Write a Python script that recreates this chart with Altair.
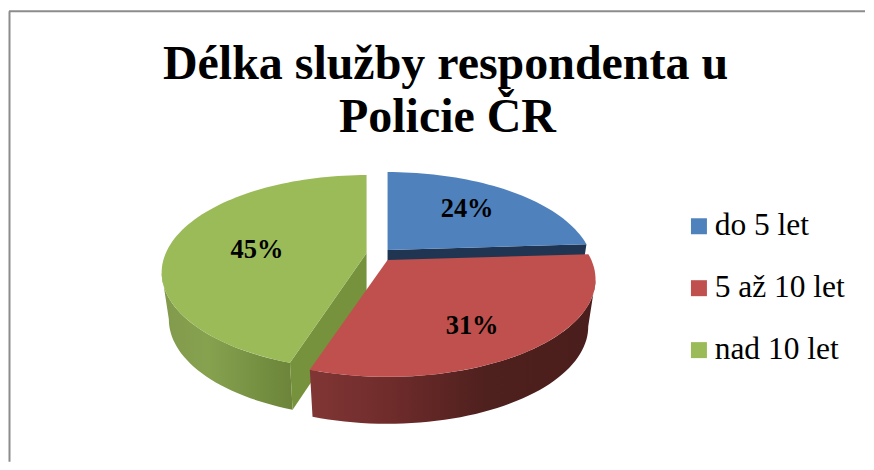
import math
import altair as alt
import pandas as pd

categories = ["do 5 let", "5 až 10 let", "nad 10 let"]
shares = [24, 31, 45]
labels = ["24%", "31%", "45%"]
colors = ["#4f81bd", "#c0504d", "#9bbb59"]
title_lines = ["Délka služby respondenta u", "Policie ČR"]

# exploded slice centres and half-axes (reference pixels)
centres = [(388, 250), (388, 260), (367, 253)]
radii = [202, 204, 201]
RY, K, DEPTH, NARROW = 93.6, 0.2, 47, 0.965
label_frac = [(0.66, 0.69), (0.57, 0.75), (0.57, 0.2)]


def rim(i, a):
    cx, cy = centres[i]
    t = math.radians(a)
    u, v = math.sin(t), -math.cos(t)
    d = 1 - K * v
    return cx + radii[i] * u / d, cy + RY * v / d


def drop(i, p):
    return centres[i][0] + (p[0] - centres[i][0]) * NARROW, p[1] + DEPTH


starts = [0]
for s in shares:
    starts.append(starts[-1] + s * 3.6)


def frame(pts, cat):
    return pd.DataFrame(
        {"x": [p[0] for p in pts], "y": [p[1] for p in pts],
         "o": list(range(len(pts))), "category": cat}
    )


tops = []
for i, c in enumerate(categories):
    a0, a1 = starts[i], starts[i + 1]
    n = int((a1 - a0) / 2) + 1
    arc = [rim(i, a0 + (a1 - a0) * k / n) for k in range(n + 1)]
    tops.append(frame([centres[i]] + arc + [centres[i]], c))
tops = pd.concat(tops)


def outer(i, a0, a1):
    n = int((a1 - a0) / 2) + 1
    arc = [rim(i, a0 + (a1 - a0) * k / n) for k in range(n + 1)]
    low = [drop(i, p) for p in reversed(arc)]
    return frame(arc + low + arc[:1], categories[i])


def cut(i, a):
    c = centres[i]
    p = rim(i, a)
    pts = [c, p, drop(i, p), (c[0], c[1] + DEPTH), c]
    return frame(pts, categories[i])


X = alt.X("x:Q", scale=alt.Scale(domain=[8, 866], nice=False, zero=False), axis=None)
Y = alt.Y("y:Q", scale=alt.Scale(domain=[462, 8], nice=False, zero=False), axis=None)


def grad(stops):
    return {"gradient": "linear", "x1": 0, "x2": 1, "y1": 0, "y2": 0,
            "stops": [{"offset": o, "color": c} for o, c in stops]}


def wall(df, fill):
    return alt.Chart(df).mark_line(fill=fill, strokeWidth=0, stroke="transparent", interpolate="linear").encode(
        x=X, y=Y, order=alt.Order("o:Q")
    )


blue_cut = wall(cut(0, starts[1]), "#1f3552")
green_outer = wall(outer(2, starts[2], 258.5),
                   grad([(0, "#81994c"), (0.35, "#86a24f"), (1, "#6b8439")]))
green_cut = wall(cut(2, starts[2]), "#76923c")
red_outer = wall(outer(1, 101.5, starts[2]),
                 grad([(0, "#813635"), (0.3, "#6d2b2a"), (0.62, "#4e201e"), (1, "#4a1e1c")]))

top_layer = alt.Chart(tops).mark_line(strokeWidth=0, stroke="transparent").encode(
    x=X, y=Y, order=alt.Order("o:Q"),
    detail="category:N",
    fill=alt.Fill(
        "category:N",
        scale=alt.Scale(domain=categories, range=colors),
        legend=alt.Legend(
            title=None, orient="none", legendX=676, legendY=202.5,
            symbolType="square", symbolSize=256, symbolStrokeWidth=0,
            labelFont="Liberation Serif", labelFontSize=31.5, labelColor="#000000",
            labelOffset=0, rowPadding=29, labelLimit=200,
        ),
    ),
)

label_rows = []
for i, lab in enumerate(labels):
    mid = (starts[i] + starts[i + 1]) / 2
    p = rim(i, mid)
    cx, cy = centres[i]
    fx, fy = label_frac[i]
    label_rows.append({"x": cx + (p[0] - cx) * fx, "y": cy + (p[1] - cy) * fy, "t": lab})
pct = alt.Chart(pd.DataFrame(label_rows)).mark_text(
    font="Liberation Serif", fontWeight="bold", fontSize=26.5, color="#000000"
).encode(x=X, y=Y, text="t:N")

title_df = pd.DataFrame({"line": title_lines, "x": [446, 448], "y": [65, 118]})
title_marks = alt.Chart(title_df).mark_text(
    font="Liberation Serif", fontWeight="bold", fontSize=48, color="#000000"
).encode(x=X, y=Y, text="line:N")

frame_left = alt.Chart(pd.DataFrame({"a": [0]})).mark_rule(color="#8c8c8c", strokeWidth=2).encode(
    x=alt.value(1.5), y=alt.value(3), y2=alt.value(454)
)
frame_top = alt.Chart(pd.DataFrame({"a": [0]})).mark_rule(color="#8c8c8c", strokeWidth=2).encode(
    x=alt.value(1), x2=alt.value(858), y=alt.value(3)
)

chart = alt.layer(
    frame_left, frame_top, blue_cut, green_outer, green_cut, red_outer, top_layer, pct, title_marks
).properties(width=858, height=454, padding=0, background="#ffffff").configure_view(stroke=None)

chart.save("out.html", embed_options={"renderer": "svg", "actions": False})
